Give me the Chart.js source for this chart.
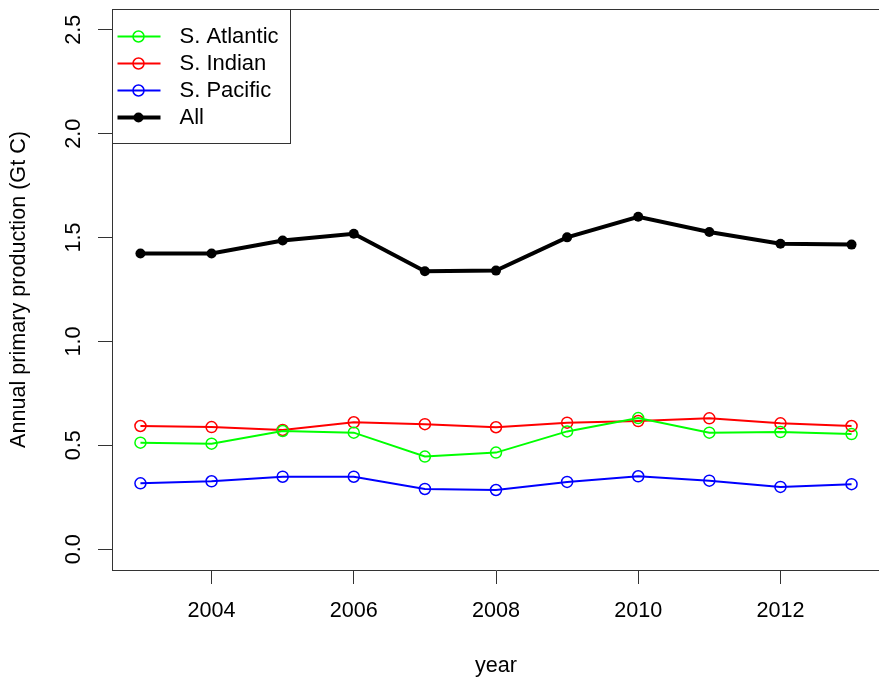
<!DOCTYPE html>
<html>
<head>
<meta charset="utf-8">
<title>Annual primary production</title>
<script src="https://cdn.jsdelivr.net/npm/chart.js@4.4.1/dist/chart.umd.min.js"></script>
<style>
    html, body { margin: 0; padding: 0; background: #fff; overflow: hidden; }
    #grafico { display: block; }
</style>
</head>
<body>
<canvas id="grafico" width="887" height="680"></canvas>
<script>
// dados
const anos = [2003, 2004, 2005, 2006, 2007, 2008, 2009, 2010, 2011, 2012, 2013];
const atlantico = [0.513, 0.508, 0.569, 0.561, 0.446, 0.465, 0.567, 0.631, 0.561, 0.564, 0.554];
const indico = [0.593, 0.588, 0.574, 0.611, 0.602, 0.587, 0.609, 0.617, 0.630, 0.606, 0.593];
const pacifico = [0.317, 0.327, 0.349, 0.349, 0.290, 0.285, 0.324, 0.351, 0.330, 0.300, 0.313];
const total = [1.423, 1.423, 1.486, 1.518, 1.338, 1.341, 1.501, 1.600, 1.527, 1.470, 1.466];
const nomesSeries = ['S. Atlantic', 'S. Indian', 'S. Pacific', 'All'];
const ticksX = [2004, 2006, 2008, 2010, 2012];
const ticksY = [0, 0.5, 1, 1.5, 2, 2.5];

const fonte = { family: '"Liberation Sans", Arial, sans-serif', size: 21.6 };

function pontos(valores) {
    return anos.map((ano, i) => ({ x: ano, y: valores[i] }));
}

function serieAberta(nome, valores, cor) {
    return {
        label: nome,
        data: pontos(valores),
        borderColor: cor,
        borderWidth: 2,
        pointStyle: 'circle',
        pointRadius: 5.5,
        pointBorderWidth: 1.5,
        pointBorderColor: cor,
        pointBackgroundColor: 'rgba(0,0,0,0)',
        tension: 0
    };
}

const dadosGrafico = {
    datasets: [
        serieAberta(nomesSeries[0], atlantico, '#00ff00'),
        serieAberta(nomesSeries[1], indico, '#ff0000'),
        serieAberta(nomesSeries[2], pacifico, '#0000ff'),
        {
            label: nomesSeries[3],
            data: pontos(total),
            borderColor: '#000',
            borderWidth: 4,
            pointStyle: 'circle',
            pointRadius: 5,
            pointBorderWidth: 0,
            pointBackgroundColor: '#000',
            tension: 0
        }
    ]
};

// caixa de cima e legenda no estilo do R
const legendaR = {
    id: 'legendaR',
    afterDraw(chart) {
        const ctx = chart.ctx;
        const area = chart.chartArea;
        ctx.save();
        ctx.strokeStyle = '#333';
        ctx.lineWidth = 1;
        ctx.beginPath();
        ctx.moveTo(area.left, area.top + 0.5);
        ctx.lineTo(area.right, area.top + 0.5);
        ctx.stroke();

        const x0 = area.left + 0.5, y0 = area.top + 0.5;
        ctx.strokeRect(x0, y0, 178, 134);

        chart.data.datasets.forEach((ds, i) => {
            const y = y0 + 27 + i * 27;
            ctx.strokeStyle = ds.borderColor;
            ctx.lineWidth = ds.borderWidth;
            ctx.beginPath();
            ctx.moveTo(x0 + 5, y);
            ctx.lineTo(x0 + 48, y);
            ctx.stroke();

            ctx.beginPath();
            ctx.arc(x0 + 26, y, ds.pointRadius, 0, Math.PI * 2);
            if (ds.pointBorderWidth > 0) {
                ctx.lineWidth = ds.pointBorderWidth;
                ctx.strokeStyle = ds.pointBorderColor;
                ctx.stroke();
            } else {
                ctx.fillStyle = ds.pointBackgroundColor;
                ctx.fill();
            }

            ctx.fillStyle = '#000';
            ctx.font = '22px ' + fonte.family;
            ctx.textAlign = 'left';
            ctx.textBaseline = 'middle';
            ctx.fillText(ds.label, x0 + 67, y);
        });
        ctx.restore();
    }
};

// tira as margens automáticas que o Chart.js coloca por causa dos rótulos
function semMargens(eixo) {
    eixo.paddingTop = 0;
    eixo.paddingBottom = 0;
    eixo.paddingLeft = 0;
    eixo.paddingRight = 0;
}

const config = {
    type: 'line',
    data: dadosGrafico,
    options: {
        responsive: false,
        animation: false,
        layout: { padding: { top: 9, right: 0, left: 0, bottom: 0 } },
        plugins: {
            legend: { display: false },
            tooltip: { enabled: false }
        },
        scales: {
            x: {
                type: 'linear',
                min: 2002.6,
                max: 2013.4,
                afterBuildTicks: (eixo) => { eixo.ticks = ticksX.map(v => ({ value: v })); },
                afterFit: (eixo) => { eixo.height = 110; semMargens(eixo); },
                grid: { drawOnChartArea: false, drawTicks: true, tickLength: 14, tickColor: '#333', tickWidth: 1 },
                border: { display: true, color: '#333', width: 1 },
                ticks: {
                    color: '#000', font: fonte, padding: 14, maxRotation: 0, autoSkip: false,
                    callback: (v) => String(v)
                },
                title: { display: true, text: 'year', color: '#000', font: fonte, padding: { top: 0, bottom: 1 } }
            },
            y: {
                type: 'linear',
                min: -0.1,
                max: 2.6,
                afterBuildTicks: (eixo) => { eixo.ticks = ticksY.map(v => ({ value: v })); },
                afterFit: (eixo) => { eixo.width = 112; semMargens(eixo); },
                grid: { drawOnChartArea: false, drawTicks: true, tickLength: 14, tickColor: '#333', tickWidth: 1 },
                border: { display: true, color: '#333', width: 1 },
                ticks: {
                    color: '#000', font: fonte, padding: 9, minRotation: 90, maxRotation: 90,
                    crossAlign: 'center', autoSkip: false,
                    callback: (v) => Number(v).toFixed(1)
                },
                title: {
                    display: true, text: 'Annual primary production (Gt C)', color: '#000',
                    font: fonte, padding: { top: 6, bottom: 0 }
                }
            }
        }
    },
    plugins: [legendaR]
};

let myChart = new Chart(document.getElementById('grafico'), config);
</script>
</body>
</html>
